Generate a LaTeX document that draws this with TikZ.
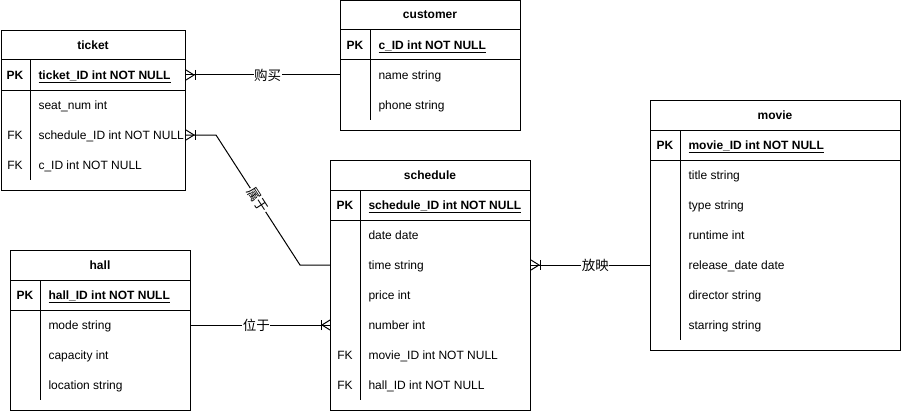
\documentclass[tikz,border=0pt]{standalone}
\usepackage{fontspec}
\setmainfont{Liberation Sans}
\newfontfamily\cjkfont{Noto Sans CJK SC}
\usetikzlibrary{calc}
\begin{document}
\begin{tikzpicture}[x=1pt,y=-1pt,line width=1pt,
  tbl/.style={draw, rectangle, inner sep=0pt, anchor=north west, line width=1pt},
  ttl/.style={font=\fontsize{12}{14}\selectfont\bfseries, inner sep=0pt},
  fld/.style={font=\fontsize{12}{14}\selectfont, inner sep=0pt, anchor=west, text height=8.6pt, text depth=0pt},
  pkfld/.style={fld, font=\fontsize{12}{14}\selectfont\bfseries},
  key/.style={fld, anchor=center},
  pkkey/.style={pkfld, anchor=center},
  lbl/.style={font=\fontsize{13.5}{15}\selectfont\cjkfont, fill=white, inner sep=0.5pt},
  conn/.style={line width=1pt},
  pics/crowfoot/.style={code={\draw[line width=1pt] (0,-5) -- (8,0) -- (0,5); \draw[line width=1pt] (9,-5) -- (9,5);}}
]
\useasboundingbox (0,0) rectangle (902,412);

% ---------- ticket ----------
\node[tbl, minimum width=184pt, minimum height=160pt] (ticket) at (1,30) {};
\draw (1,60) -- (185,60);
\draw (1,90) -- (185,90);
\draw (30,60) -- (30,180);
\node[ttl] (ticket-t) at (93,45) {ticket};
\node[pkkey] (ticket-pk) at (15,75) {PK};
\node[pkfld] (ticket-0) at (38,75) {\underline{ticket\_ID int NOT NULL}};
\node[fld] (ticket-1) at (38,105) {seat\_num int};
\node[key] (ticket-fk1) at (15,135) {FK};
\node[fld] (ticket-2) at (38,135) {schedule\_ID int NOT NULL};
\node[key] (ticket-fk2) at (15,165) {FK};
\node[fld] (ticket-3) at (38,165) {c\_ID int NOT NULL};

% ---------- customer ----------
\node[tbl, minimum width=180pt, minimum height=129pt] (customer) at (340,0.5) {};
\draw (340,30) -- (520,30);
\draw (340,60) -- (520,60);
\draw (370,30) -- (370,120);
\node[ttl] (customer-t) at (430,15) {customer};
\node[pkkey] (customer-pk) at (355,45) {PK};
\node[pkfld] (customer-0) at (378,45) {\underline{c\_ID int NOT NULL}};
\node[fld] (customer-1) at (378,75) {name string};
\node[fld] (customer-2) at (378,105) {phone string};

% ---------- movie ----------
\node[tbl, minimum width=250pt, minimum height=250pt] (movie) at (650,100) {};
\draw (650,130) -- (900,130);
\draw (650,160) -- (900,160);
\draw (680,130) -- (680,340);
\node[ttl] (movie-t) at (775,115) {movie};
\node[pkkey] (movie-pk) at (665,145) {PK};
\node[pkfld] (movie-0) at (688,145) {\underline{movie\_ID int NOT NULL}};
\node[fld] (movie-1) at (688,175) {title string};
\node[fld] (movie-2) at (688,205) {type string};
\node[fld] (movie-3) at (688,235) {runtime int};
\node[fld] (movie-4) at (688,265) {release\_date date};
\node[fld] (movie-5) at (688,295) {director string};
\node[fld] (movie-6) at (688,325) {starring string};

% ---------- schedule ----------
\node[tbl, minimum width=200pt, minimum height=250pt] (schedule) at (330,160) {};
\draw (330,190) -- (530,190);
\draw (330,220) -- (530,220);
\draw (360,190) -- (360,400);
\node[ttl] (schedule-t) at (430,175) {schedule};
\node[pkkey] (schedule-pk) at (345,205) {PK};
\node[pkfld] (schedule-0) at (368,205) {\underline{schedule\_ID int NOT NULL}};
\node[fld] (schedule-1) at (368,235) {date date};
\node[fld] (schedule-2) at (368,265) {time string};
\node[fld] (schedule-3) at (368,295) {price int};
\node[fld] (schedule-4) at (368,325) {number int};
\node[key] (schedule-fk1) at (345,355) {FK};
\node[fld] (schedule-5) at (368,355) {movie\_ID int NOT NULL};
\node[key] (schedule-fk2) at (345,385) {FK};
\node[fld] (schedule-6) at (368,385) {hall\_ID int NOT NULL};

% ---------- hall ----------
\node[tbl, minimum width=180pt, minimum height=160pt] (hall) at (10,250) {};
\draw (10,280) -- (190,280);
\draw (10,310) -- (190,310);
\draw (40,280) -- (40,400);
\node[ttl] (hall-t) at (100,265) {hall};
\node[pkkey] (hall-pk) at (25,295) {PK};
\node[pkfld] (hall-0) at (48,295) {\underline{hall\_ID int NOT NULL}};
\node[fld] (hall-1) at (48,325) {mode string};
\node[fld] (hall-2) at (48,355) {capacity int};
\node[fld] (hall-3) at (48,385) {location string};

% ---------- connectors ----------
\draw[conn] (ticket.east |- ticket-0) -- node[lbl, pos=0.53] {购买} (customer.west |- customer-1);
\pic at (ticket.east |- ticket-0) {crowfoot};

\draw[conn] (ticket.east |- ticket-2) -- ++(30,0)
  -- node[lbl, sloped] {属于} ($(schedule.west |- schedule-2)+(-30,0)$)
  -- (schedule.west |- schedule-2);
\pic at (ticket.east |- ticket-2) {crowfoot};

\draw[conn] (hall.east |- hall-1) -- node[lbl, pos=0.47] {位于} (schedule.west |- schedule-4);
\pic[rotate=180] at (schedule.west |- schedule-4) {crowfoot};

\draw[conn] (schedule.east |- schedule-2) -- node[lbl, pos=0.54] {放映} (movie.west |- movie-4);
\pic at (schedule.east |- schedule-2) {crowfoot};
\end{tikzpicture}
\end{document}
